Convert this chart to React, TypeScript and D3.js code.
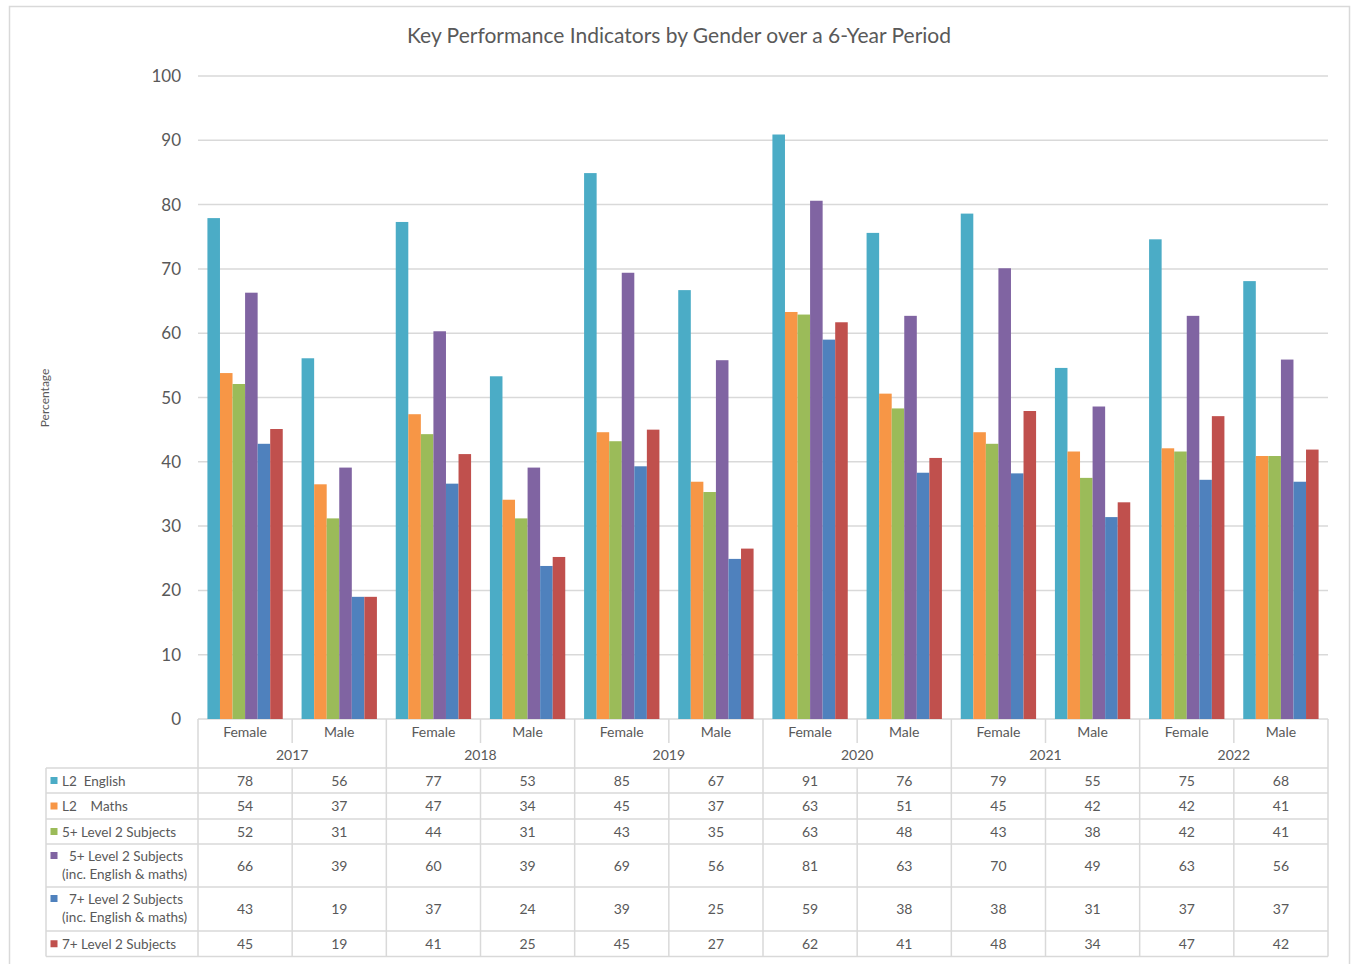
import React from "react";
import * as d3 from "d3";

const years = ["2017", "2018", "2019", "2020", "2021", "2022"];
const genders = ["Female", "Male"];
const seriesNames = [
  ["L2  English"],
  ["L2    Maths"],
  ["5+ Level 2 Subjects"],
  ["  5+ Level 2 Subjects", "(inc. English & maths)"],
  ["  7+ Level 2 Subjects", "(inc. English & maths)"],
  ["7+ Level 2 Subjects"],
];
const seriesColors = ["#4BACC6", "#F79646", "#9BBB59", "#8064A2", "#4F81BD", "#C0504D"];

// values per category: 2017F, 2017M, 2018F, 2018M, ...
const l2English = [77.9, 56.1, 77.3, 53.3, 84.9, 66.7, 90.9, 75.6, 78.6, 54.6, 74.6, 68.1];
const l2Maths = [53.8, 36.5, 47.4, 34.1, 44.6, 36.9, 63.3, 50.6, 44.6, 41.6, 42.1, 40.9];
const fivePlus = [52.1, 31.2, 44.3, 31.2, 43.2, 35.3, 62.9, 48.3, 42.8, 37.5, 41.6, 40.9];
const fivePlusInc = [66.3, 39.1, 60.3, 39.1, 69.4, 55.8, 80.6, 62.7, 70.1, 48.6, 62.7, 55.9];
const sevenPlusInc = [42.8, 19.0, 36.6, 23.8, 39.3, 24.9, 59.0, 38.3, 38.2, 31.4, 37.2, 36.9];
const sevenPlus = [45.1, 19.0, 41.2, 25.2, 45.0, 26.5, 61.7, 40.6, 47.9, 33.7, 47.1, 41.9];
const yTicks = [0, 10, 20, 30, 40, 50, 60, 70, 80, 90, 100];

const seriesValues = [l2English, l2Maths, fivePlus, fivePlusInc, sevenPlusInc, sevenPlus];

const W = 1351;
const H = 964;
const FONT = "Lato, 'Noto Sans', sans-serif";
const TXT = "#595959";
const GRID = "#d9d9d9";

export default function App() {
  const plotL = 198, plotR = 1328, plotT = 76, plotB = 719;
  const cats = d3.range(12).map((i) => `${years[Math.floor(i / 2)]}-${genders[i % 2]}`);
  const x = d3.scaleBand<string>().domain(cats).range([plotL, plotR]).padding(0);
  const xs = d3
    .scaleBand<number>()
    .domain(d3.range(6))
    .range([0, x.bandwidth()])
    .paddingInner(0)
    .paddingOuter(0.75);
  const y = d3.scaleLinear().domain([0, 100]).range([plotB, plotT]);

  const yearX = d3.scaleBand<string>().domain(years).range([plotL, plotR]).padding(0);

  const rowEdges = [768, 793, 819, 844, 887, 931, 956.5];
  const tableL = 46;

  return (
    <div style={{ position: "absolute", left: 0, top: 0 }}>
      <svg width={W} height={H} style={{ display: "block", background: "#fff" }} fontFamily={FONT}>
        <rect x={9.5} y={6.5} width={1340} height={970} fill="#fff" stroke={GRID} strokeWidth={1.5} />
        <text x={679} y={43} textAnchor="middle" fontSize={21} fill={TXT}>
          Key Performance Indicators by Gender over a 6-Year Period
        </text>
        {yTicks.map((t) => (
          <g key={t}>
            <line x1={plotL} x2={plotR} y1={y(t)} y2={y(t)} stroke={GRID} strokeWidth={1.5} />
            <text x={181} y={y(t) + 6} textAnchor="end" fontSize={17} fill={TXT}>
              {t}
            </text>
          </g>
        ))}
        <text
          transform={`translate(49,398) rotate(-90)`}
          textAnchor="middle"
          fontSize={12}
          fill={TXT}
        >
          Percentage
        </text>
        {seriesValues.map((vals, s) => (
          <g key={s} fill={seriesColors[s]}>
            {vals.map((v, i) => (
              <rect
                key={i}
                x={(x(cats[i]) as number) + (xs(s) as number)}
                y={y(v)}
                width={xs.bandwidth()}
                height={plotB - y(v)}
              />
            ))}
          </g>
        ))}
        <g stroke={GRID} strokeWidth={1.5} fill="none">
          {years.map((yr) => (
            <line key={yr} x1={yearX(yr) as number} x2={yearX(yr) as number} y1={plotB} y2={rowEdges[0]} />
          ))}
          <line x1={plotR} x2={plotR} y1={plotB} y2={rowEdges[rowEdges.length - 1]} />
          {years.map((yr, k) => {
            const xx = x(cats[k * 2 + 1]) as number;
            return <line key={"s" + yr} x1={xx} x2={xx} y1={plotB} y2={743} />;
          })}
          {rowEdges.map((ry, i) => (
            <line key={"h" + i} x1={tableL} x2={plotR} y1={ry} y2={ry} />
          ))}
          <line x1={tableL} x2={tableL} y1={rowEdges[0]} y2={rowEdges[rowEdges.length - 1]} />
          {cats.map((c) => (
            <line
              key={"v" + c}
              x1={x(c) as number}
              x2={x(c) as number}
              y1={rowEdges[0]}
              y2={rowEdges[rowEdges.length - 1]}
            />
          ))}
        </g>
        {cats.map((c, i) => (
          <text
            key={"g" + c}
            x={(x(c) as number) + x.bandwidth() / 2}
            y={737}
            textAnchor="middle"
            fontSize={14}
            fill={TXT}
          >
            {genders[i % 2]}
          </text>
        ))}
        {years.map((yr) => (
          <text
            key={"y" + yr}
            x={(yearX(yr) as number) + yearX.bandwidth() / 2}
            y={760}
            textAnchor="middle"
            fontSize={14}
            fill={TXT}
          >
            {yr}
          </text>
        ))}
        {seriesValues.map((vals, s) => {
          const top = rowEdges[s];
          const bot = rowEdges[s + 1];
          const mid = (top + bot) / 2;
          const lines = seriesNames[s];
          const two = lines.length > 1;
          return (
            <g key={"r" + s}>
              <rect
                x={50.5}
                y={two ? top + 8 : mid - 3.5}
                width={7}
                height={7}
                fill={seriesColors[s]}
              />
              {lines.map((ln, li) => (
                <text
                  key={li}
                  x={62}
                  y={two ? top + 17 + li * 18 : mid + 5}
                  fontSize={13.5}
                  fill={TXT}
                  style={{ whiteSpace: "pre" }}
                >
                  {ln}
                </text>
              ))}
              {vals.map((v, i) => (
                <text
                  key={i}
                  x={(x(cats[i]) as number) + x.bandwidth() / 2}
                  y={mid + 5}
                  textAnchor="middle"
                  fontSize={14}
                  fill={TXT}
                >
                  {Math.round(v)}
                </text>
              ))}
            </g>
          );
        })}
      </svg>
    </div>
  );
}
